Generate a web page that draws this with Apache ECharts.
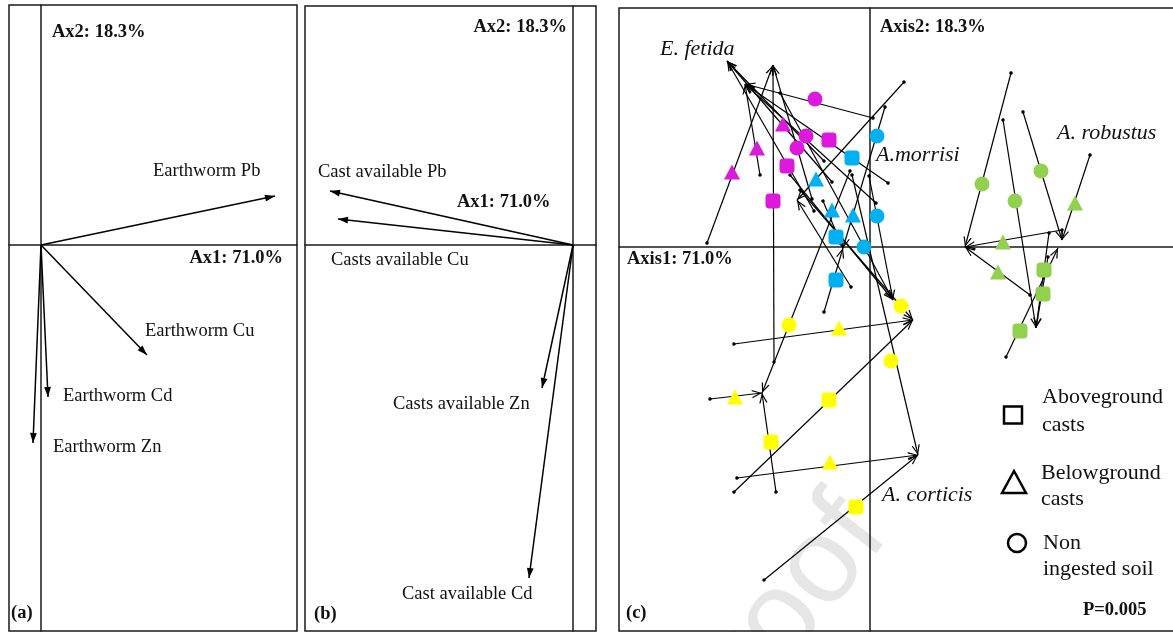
<!DOCTYPE html>
<html><head><meta charset="utf-8">
<script src="https://cdn.jsdelivr.net/npm/echarts@6/dist/echarts.min.js"></script>
<style>html,body{margin:0;padding:0;background:#fff}#c{width:1173px;height:632px}</style>
</head><body><div id="c"></div>
<script>
// ---------- DATA ----------
// (a) earthworm metal loadings (Ax1, Ax2)
const earthwormVars = ['Earthworm Pb', 'Earthworm Cu', 'Earthworm Cd', 'Earthworm Zn'];
const earthwormAx1 = [0.936, 0.424, 0.028, -0.032];
const earthwormAx2 = [0.196, -0.440, -0.608, -0.792];
// (b) cast available metal loadings (Ax1, Ax2)
const castVars = ['Cast available Pb', 'Casts available Cu', 'Casts available Zn', 'Cast available Cd'];
const castAx1 = [-0.972, -0.940, -0.124, -0.176];
const castAx2 = [0.216, 0.104, -0.572, -1.332];

// (c) sample scores [Axis1, Axis2]
const fetidaAbove = [[-0.41, 1.07], [-0.83, 0.81], [-0.97, 0.46]];
const fetidaBelow = [[-0.87, 1.23], [-1.13, 0.99], [-1.38, 0.75]];
const fetidaSoil  = [[-0.55, 1.48], [-0.64, 1.11], [-0.73, 0.99]];
const morrisiAbove = [[-0.18, 0.89], [-0.34, 0.10], [-0.34, -0.33]];
const morrisiBelow = [[-0.54, 0.68], [-0.38, 0.37], [-0.17, 0.32]];
const morrisiSoil  = [[0.07, 1.11], [0.07, 0.31], [-0.06, 0.00]];
const corticisAbove = [[-0.41, -1.53], [-0.99, -1.95], [-0.14, -2.60]];
const corticisBelow = [[-0.31, -0.81], [-1.35, -1.50], [-0.40, -2.15]];
const corticisSoil  = [[0.31, -0.59], [-0.81, -0.78], [0.21, -1.14]];
const robustusAbove = [[1.74, -0.23], [1.73, -0.47], [1.50, -0.84]];
const robustusBelow = [[2.05, 0.44], [1.33, 0.05], [1.28, -0.25]];
const robustusSoil  = [[1.12, 0.63], [1.45, 0.46], [1.71, 0.76]];

// (c) Procrustes residual arrows [x1, y1, x2, y2]
const fetidaArrows = [
  [-1.63, 0.04, -0.97, 1.82], [-1.10, 0.72, -1.25, 1.63], [-0.96, -1.15, -0.97, 1.82],
  [0.03, 1.29, -1.25, 1.63], [-0.46, 0.86, -1.43, 1.86], [0.06, 0.44, -1.25, 1.63],
  [-0.58, 0.48, -0.97, 1.82], [0.18, 0.64, -1.25, 1.63], [-0.56, 0.36, -1.43, 1.86],
  [-0.38, 0.65, -1.43, 1.86]
];
const morrisiArrows = [
  [0.34, 1.65, -0.73, 0.47], [0.15, 1.40, -0.27, -0.01], [-0.01, 0.71, 0.23, -0.53],
  [-0.90, 1.54, 0.23, -0.53], [-0.19, -0.40, -0.73, 0.47], [-0.46, -0.65, -0.27, -0.01],
  [-0.47, 0.46, -0.27, -0.01], [-0.80, 0.72, 0.23, -0.53]
];
const corticisArrows = [
  [-1.36, -0.97, 0.43, -0.73], [-1.60, -1.52, -1.08, -1.46], [-1.33, -2.31, 0.48, -2.08],
  [-1.36, -2.45, 0.43, -0.73], [-0.94, -2.45, -1.08, -1.46], [-1.06, -3.33, 0.48, -2.08],
  [-0.20, 0.76, -1.08, -1.46], [-0.70, 0.57, 0.43, -0.73], [-0.18, 0.72, 0.48, -2.08]
];
const robustusArrows = [
  [1.41, 1.74, 0.95, 0.00], [1.92, 0.17, 0.95, 0.00], [1.60, -0.48, 0.95, 0.00],
  [1.53, 1.35, 1.92, 0.07], [2.20, 0.92, 1.92, 0.07], [1.36, -1.10, 1.88, -0.01],
  [1.33, 1.27, 1.66, -0.81], [1.79, 0.14, 1.66, -0.81], [1.78, -0.10, 1.66, -0.81]
];

// ---------- STYLE ----------
const SERIF = '"Liberation Serif","Times New Roman",serif';
const BOLD = 'bold 18.5px ' + SERIF;
const REG = '18.5px ' + SERIF;
const ITAL = 'italic 22px ' + SERIF;
const LEG = '22px ' + SERIF;
const MAGENTA = '#dc1adc', CYAN = '#00b0f0', YELLOW = '#ffff00', GREEN = '#92d050';

// arrow head paths with the tip at the symbol centre
const FILLED_HEAD = 'path://M0,0L0.01,0ZM20,0L19.99,0ZM10,10L13.4,20L6.6,20Z';
const OPEN_HEAD = 'path://M0,0L0.01,0ZM20,0L19.99,0ZM10,10L14.2,20L12.8,20L10,12.6L7.2,20L5.8,20Z';

const chart = echarts.init(document.getElementById('c'), null, {renderer: 'canvas'});

function axisPair(idx, xmin, xmax, ymin, ymax) {
  const base = {
    type: 'value', gridIndex: idx, splitLine: {show: false},
    axisLabel: {show: false}, axisTick: {show: false},
    axisLine: {show: true, onZero: true, lineStyle: {color: '#1a1a1a', width: 1.5}}
  };
  return [Object.assign({min: xmin, max: xmax}, base), Object.assign({min: ymin, max: ymax}, base)];
}
const A = axisPair(0, -0.128, 1.024, -1.544, 0.96);
const B = axisPair(1, -1.072, 0.092, -1.544, 0.956);
const C = axisPair(2, -2.51, 3.06, -3.84, 2.39);

const gridStyle = {show: true, borderColor: '#1a1a1a', borderWidth: 1.5, backgroundColor: 'transparent', outerBoundsMode: 'none', containLabel: false};

function loadingLines(idx, names, ax1, ax2) {
  return {
    type: 'lines', coordinateSystem: 'cartesian2d', xAxisIndex: idx, yAxisIndex: idx,
    symbol: ['none', FILLED_HEAD], symbolSize: [1, 20], silent: true, z: 3,
    lineStyle: {color: '#000', width: 1.5, opacity: 1},
    data: names.map((n, i) => ({name: n, coords: [[0, 0], [ax1[i], ax2[i]]]}))
  };
}
function residualLines(arr) {
  return {
    type: 'lines', coordinateSystem: 'cartesian2d', xAxisIndex: 2, yAxisIndex: 2,
    symbol: ['circle', OPEN_HEAD], symbolSize: [3.5, 20], silent: true, z: 3,
    lineStyle: {color: '#000', width: 1.2, opacity: 1},
    data: arr.map(a => ({coords: [[a[0], a[1]], [a[2], a[3]]]}))
  };
}
function pts(data, shape, color) {
  const size = shape === 'triangle' ? [16, 15] : 15;
  return {
    type: 'scatter', xAxisIndex: 2, yAxisIndex: 2, data: data, silent: true, z: 4,
    symbol: shape, symbolSize: size, itemStyle: {color: color, opacity: 1}
  };
}

function txt(s, x, y, font, align) {
  return {type: 'text', x: x, y: y, z: 20, silent: true,
    style: {text: s, font: font, fill: '#111', align: align || 'left', verticalAlign: 'middle'}};
}

const graphics = [
  // watermark
  {type: 'text', x: 912, y: 552, rotation: 52 * Math.PI / 180, z: -5, silent: true,
   style: {text: 'Journal Pre-proof', font: '122px "Liberation Sans",Arial,sans-serif', fill: '#e6e6e6', align: 'right', verticalAlign: 'bottom'}},
  // panel (a)
  txt('Ax2: 18.3%', 52, 32, BOLD), txt('Ax1: 71.0%', 283, 258, BOLD, 'right'),
  txt(earthwormVars[0], 153, 171, REG), txt(earthwormVars[1], 145, 331, REG),
  txt(earthwormVars[2], 63, 396, REG), txt(earthwormVars[3], 53, 447, REG),
  txt('(a)', 11, 613, BOLD),
  // panel (b)
  txt('Ax2: 18.3%', 567, 27, BOLD, 'right'), txt('Ax1: 71.0%', 457, 202, BOLD),
  txt(castVars[0], 318, 172, REG), txt(castVars[1], 331, 260, REG),
  txt(castVars[2], 393, 404, REG), txt(castVars[3], 402, 594, REG),
  txt('(b)', 314, 614, BOLD),
  // panel (c)
  txt('Axis2: 18.3%', 880, 27, BOLD), txt('Axis1: 71.0%', 627, 259, BOLD),
  txt('E. fetida', 660, 49, ITAL), txt('A.morrisi', 876, 155, ITAL),
  txt('A. robustus', 1057, 133, ITAL), txt('A. corticis', 882, 495, ITAL),
  txt('(c)', 626, 613, BOLD), txt('P=0.005', 1083, 610, BOLD),
  // legend
  {type: 'rect', z: 20, shape: {x: 1004, y: 406.5, width: 18, height: 17}, style: {fill: 'none', stroke: '#000', lineWidth: 2.5}},
  {type: 'polygon', z: 20, shape: {points: [[1014, 471], [1026, 493], [1002, 493]]}, style: {fill: 'none', stroke: '#000', lineWidth: 2.5}},
  {type: 'circle', z: 20, shape: {cx: 1017, cy: 543, r: 9}, style: {fill: 'none', stroke: '#000', lineWidth: 2.5}},
  txt('Aboveground', 1042, 397, LEG), txt('casts', 1042, 425, LEG),
  txt('Belowground', 1041, 473, LEG), txt('casts', 1041, 499, LEG),
  txt('Non', 1043, 543, LEG), txt('ingested soil', 1043, 569, LEG)
];

chart.setOption({
  animation: false,
  backgroundColor: '#fff',
  grid: [
    Object.assign({left: 9, top: 5, width: 288, height: 626}, gridStyle),
    Object.assign({left: 305, top: 6, width: 291, height: 625}, gridStyle),
    Object.assign({left: 619, top: 8, width: 557, height: 623}, gridStyle)
  ],
  xAxis: [A[0], B[0], C[0]],
  yAxis: [A[1], B[1], C[1]],
  graphic: graphics,
  series: [
    loadingLines(0, earthwormVars, earthwormAx1, earthwormAx2),
    loadingLines(1, castVars, castAx1, castAx2),
    residualLines(fetidaArrows), residualLines(morrisiArrows),
    residualLines(corticisArrows), residualLines(robustusArrows),
    pts(fetidaAbove, 'roundRect', MAGENTA), pts(fetidaBelow, 'triangle', MAGENTA), pts(fetidaSoil, 'circle', MAGENTA),
    pts(morrisiAbove, 'roundRect', CYAN), pts(morrisiBelow, 'triangle', CYAN), pts(morrisiSoil, 'circle', CYAN),
    pts(corticisAbove, 'roundRect', YELLOW), pts(corticisBelow, 'triangle', YELLOW), pts(corticisSoil, 'circle', YELLOW),
    pts(robustusAbove, 'roundRect', GREEN), pts(robustusBelow, 'triangle', GREEN), pts(robustusSoil, 'circle', GREEN)
  ]
});
</script></body></html>
